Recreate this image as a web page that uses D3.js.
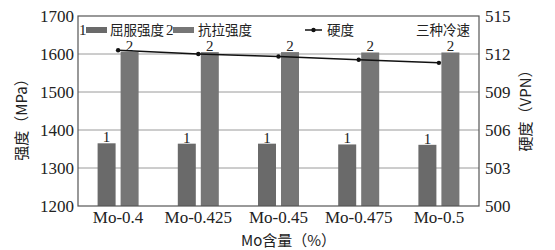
<!DOCTYPE html>
<html lang="zh">
<head>
    <meta charset="UTF-8">
    <title>Mo含量与强度、硬度</title>
    <script src="https://cdn.jsdelivr.net/npm/d3@7/dist/d3.min.js"></script>
    <style>
        body { margin: 0; background: #fff; }
        text { fill: #222; }
    </style>
</head>
<body>
<svg width="555" height="250"></svg>

<script>
    // 数据
    var categories = ['Mo-0.4', 'Mo-0.425', 'Mo-0.45', 'Mo-0.475', 'Mo-0.5'];
    var yieldStrength = [1365, 1364, 1364, 1362, 1361];
    var tensileStrength = [1606, 1605, 1605, 1604, 1604];
    var hardness = [512.3, 512.0, 511.8, 511.55, 511.3];
    var leftTicks = [1200, 1300, 1400, 1500, 1600, 1700];
    var rightTicks = [500, 503, 506, 509, 512, 515];

    var SERIF = '"Liberation Serif", "DejaVu Serif", serif';
    var CJK = '"Noto Sans CJK SC", sans-serif';

    var margin = {top: 16, right: 76, bottom: 44, left: 78},
        svg = d3.select('svg'),
        width = +svg.attr('width') - margin.left - margin.right,
        height = +svg.attr('height') - margin.top - margin.bottom;

    var g = svg.append('g')
        .attr('transform', 'translate(' + margin.left + ',' + margin.top + ')');

    var x = d3.scaleBand().domain(categories).range([0, width]);
    var yL = d3.scaleLinear().domain([1200, 1700]).range([height, 0]);
    var yR = d3.scaleLinear().domain([500, 515]).range([height, 0]);

    // 网格线
    g.selectAll('.grid')
        .data(leftTicks.slice(1, -1))
        .enter().append('line')
        .attr('x1', 0).attr('x2', width)
        .attr('y1', function (d) { return yL(d); })
        .attr('y2', function (d) { return yL(d); })
        .attr('stroke', '#9a9a9a').attr('stroke-width', 1);

    // 柱子
    var barW = 18, gap = 5;
    var series = [
        {vals: yieldStrength, color: '#6a6a6a', label: '1', off: -gap / 2 - barW},
        {vals: tensileStrength, color: '#767676', label: '2', off: gap / 2}
    ];
    series.forEach(function (s) {
        g.selectAll(null)
            .data(categories)
            .enter().append('rect')
            .attr('x', function (d) { return x(d) + x.bandwidth() / 2 + s.off; })
            .attr('y', function (d, i) { return yL(s.vals[i]); })
            .attr('width', barW)
            .attr('height', function (d, i) { return height - yL(s.vals[i]); })
            .attr('fill', s.color);
        g.selectAll(null)
            .data(categories)
            .enter().append('text')
            .attr('x', function (d) { return x(d) + x.bandwidth() / 2 + s.off + barW / 2; })
            .attr('y', function (d, i) { return yL(s.vals[i]) - 1; })
            .attr('text-anchor', 'middle')
            .style('font-family', SERIF)
            .style('font-size', '15px')
            .text(s.label);
    });

    // 硬度折线
    var line = d3.line()
        .x(function (d, i) { return x(categories[i]) + x.bandwidth() / 2; })
        .y(function (d) { return yR(d); });
    g.append('path')
        .datum(hardness)
        .attr('d', line)
        .attr('fill', 'none')
        .attr('stroke', '#111')
        .attr('stroke-width', 1.5);
    g.selectAll('.pt')
        .data(hardness)
        .enter().append('circle')
        .attr('cx', function (d, i) { return x(categories[i]) + x.bandwidth() / 2; })
        .attr('cy', function (d) { return yR(d); })
        .attr('r', 2.2)
        .attr('fill', '#111');

    // 外框
    g.append('rect')
        .attr('width', width).attr('height', height)
        .attr('fill', 'none').attr('stroke', '#555').attr('stroke-width', 1.2);

    // 坐标轴
    var axL = g.append('g').call(d3.axisLeft(yL).tickValues(leftTicks).tickFormat(d3.format('d')).tickSize(0).tickPadding(4));
    var axR = g.append('g').attr('transform', 'translate(' + width + ',0)')
        .call(d3.axisRight(yR).tickValues(rightTicks).tickFormat(d3.format('d')).tickSize(0).tickPadding(6));
    var axB = g.append('g').attr('transform', 'translate(0,' + height + ')')
        .call(d3.axisBottom(x).tickSize(0).tickPadding(5));
    [axL, axR, axB].forEach(function (a) {
        a.select('.domain').remove();
        a.selectAll('text')
            .style('font-family', SERIF)
            .style('font-size', '17px')
            .style('fill', '#222');
    });

    // 轴标题
    function title(tx, ty, rot, str) {
        svg.append('text')
            .attr('transform', 'translate(' + tx + ',' + ty + ')' + (rot ? ' rotate(-90)' : ''))
            .attr('text-anchor', 'middle')
            .style('font-family', CJK)
            .style('font-size', '15px')
            .text(str);
    }
    title(27, margin.top + height / 2 + 5, true, '强度（MPa）');
    title(531, margin.top + height / 2 - 4, true, '硬度（VPN）');
    title(margin.left + width / 2 + 10, 246, false, 'Mo含量（%）');

    // 图例
    var lg = g.append('g').attr('transform', 'translate(0,14)');
    function lgText(xp, str, font, anchor) {
        lg.append('text').attr('x', xp).attr('y', 5)
            .attr('text-anchor', anchor || 'start')
            .style('font-family', font)
            .style('font-size', font === SERIF ? '15px' : '13.5px')
            .text(str);
    }
    lgText(1, '1', SERIF);
    lg.append('rect').attr('x', 8).attr('y', -3).attr('width', 21).attr('height', 6).attr('fill', '#6a6a6a');
    lgText(32, '屈服强度', CJK);
    lgText(88, '2', SERIF);
    lg.append('rect').attr('x', 95).attr('y', -3).attr('width', 21).attr('height', 6).attr('fill', '#767676');
    lgText(120, '抗拉强度', CJK);
    lg.append('line').attr('x1', 227).attr('x2', 244).attr('y1', 0).attr('y2', 0)
        .attr('stroke', '#111').attr('stroke-width', 1.5);
    lg.append('circle').attr('cx', 235.5).attr('cy', 0).attr('r', 2.2).attr('fill', '#111');
    lgText(249, '硬度', CJK);
    lgText(width - 9, '三种冷速', CJK, 'end');
</script>
</body>
</html>
